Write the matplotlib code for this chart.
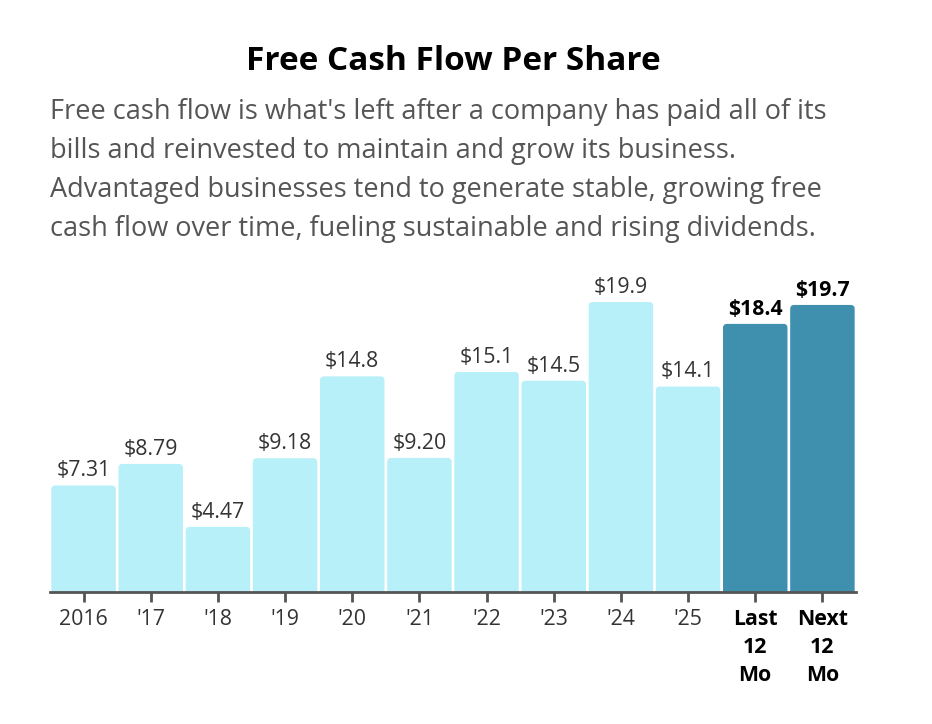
import matplotlib.pyplot as plt
from matplotlib.patches import FancyBboxPatch

labels = ['2016', "'17", "'18", "'19", "'20", "'21", "'22", "'23", "'24", "'25", 'Last\n12\nMo', 'Next\n12\nMo']
values = [7.31, 8.79, 4.47, 9.18, 14.8, 9.20, 15.1, 14.5, 19.9, 14.1, 18.4, 19.7]
value_text = ['$7.31', '$8.79', '$4.47', '$9.18', '$14.8', '$9.20', '$15.1', '$14.5', '$19.9', '$14.1', '$18.4', '$19.7']
highlight = [False] * 10 + [True, True]

light = '#b7f0f8'
dark = '#3f8fae'
gray = '#555555'

plt.rcParams['font.family'] = ['Open Sans', 'DejaVu Sans']

fig = plt.figure(figsize=(9.32, 7.24), dpi=100)
ax = fig.add_axes([50 / 932, 1 - 592 / 724, 806 / 932, (592 - 286) / 724])

bars = ax.bar(range(len(values)), values, width=0.96, color='none')
x_per_px = 12 / 806
y_per_px = 21 / 306
for b, hl in zip(bars, highlight):
    x0, w, h = b.get_x(), b.get_width(), b.get_height()
    p = FancyBboxPatch((x0, -0.5), w, h + 0.5,
                       boxstyle='round,pad=0,rounding_size=%f' % (4 * x_per_px),
                       mutation_aspect=y_per_px / x_per_px,
                       facecolor=dark if hl else light, edgecolor='none')
    ax.add_patch(p)

for i, (v, t, hl) in enumerate(zip(values, value_text, highlight)):
    ax.annotate(t, (i, v), xytext=(0, 3), textcoords='offset points',
                ha='center', va='bottom', fontsize=15.3,
                color='black' if hl else '#333333',
                fontweight='bold' if hl else 'normal')

ax.set_xlim(-0.5, 11.5)
ax.set_ylim(0, 21)
ax.set_yticks([])
for s in ['left', 'right', 'top']:
    ax.spines[s].set_visible(False)
ax.spines['bottom'].set_color(gray)
ax.spines['bottom'].set_linewidth(2)
ax.set_xticks(range(len(labels)))
ax.set_xticklabels(labels, fontsize=15.3, color='#333333', linespacing=1.46)
ax.tick_params(axis='x', length=7, width=2, color=gray, pad=5)
for lbl, hl in zip(ax.get_xticklabels(), highlight):
    if hl:
        lbl.set_fontweight('bold')
        lbl.set_color('black')

fig.text(453 / 932, 1 - 61 / 724, 'Free Cash Flow Per Share', ha='center', va='center',
         fontsize=24, fontweight='bold', color='black')
fig.text(50 / 932, 1 - 98 / 724,
         "Free cash flow is what's left after a company has paid all of its\n"
         "bills and reinvested to maintain and grow its business.\n"
         "Advantaged businesses tend to generate stable, growing free\n"
         "cash flow over time, fueling sustainable and rising dividends.",
         ha='left', va='top', fontsize=19.5, color=gray, linespacing=1.52)

fig.savefig('out.png', dpi=100)
